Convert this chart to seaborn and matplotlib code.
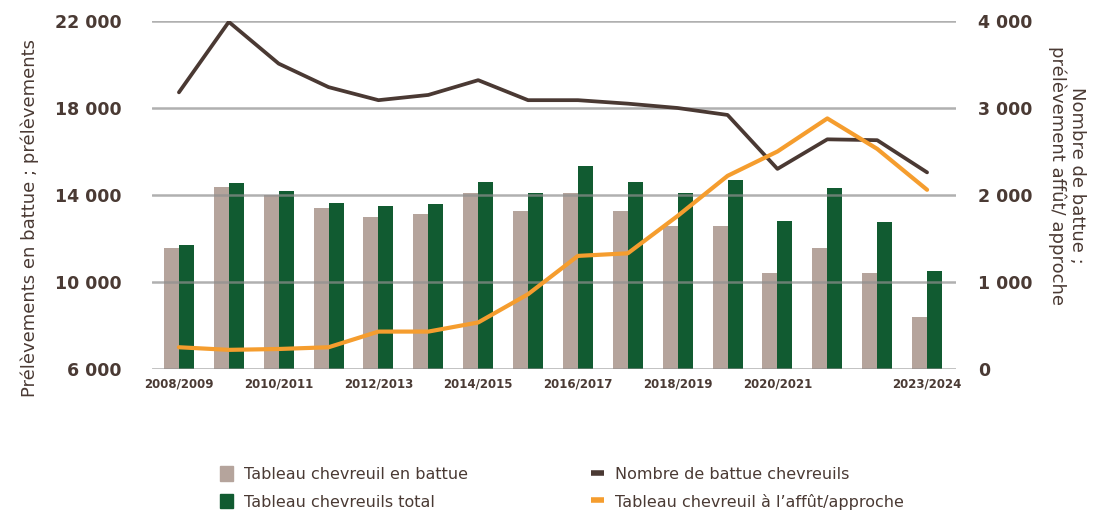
import numpy as np
import pandas as pd
import matplotlib
matplotlib.use('Agg')
import matplotlib.pyplot as plt
import seaborn as sns
from matplotlib.lines import Line2D
from matplotlib.patches import Patch

# Saisons de chasse
saisons = ['2008/2009', '2009/2010', '2010/2011', '2011/2012', '2012/2013', '2013/2014',
           '2014/2015', '2015/2016', '2016/2017', '2017/2018', '2018/2019', '2019/2020',
           '2020/2021', '2021/2022', '2022/2023', '2023/2024']
tick_saisons = ['2008/2009', '2010/2011', '2012/2013', '2014/2015', '2016/2017',
                '2018/2019', '2020/2021', '2023/2024']

# Axe gauche : tableaux
tableau_battue = [11550, 14360, 14000, 13400, 13010, 13140, 14090, 13270,
                  14090, 13270, 12580, 12580, 10430, 11550, 10430, 8370]
tableau_total = [11720, 14530, 14180, 13650, 13480, 13570, 14580, 14090,
                 15330, 14580, 14090, 14670, 12800, 14310, 12750, 10520]

# Axe droit : nombre de battues et affût/approche
nb_battues = [3180, 3990, 3510, 3240, 3090, 3150, 3320, 3090,
              3090, 3050, 3000, 2920, 2300, 2640, 2630, 2260]
tableau_affut = [250, 220, 230, 250, 430, 430, 535, 860,
                 1300, 1330, 1760, 2220, 2500, 2880, 2530, 2060]

left_ticks = [6000, 10000, 14000, 18000, 22000]
right_ticks = [0, 1000, 2000, 3000, 4000]

lab_battue = 'Tableau chevreuil en battue'
lab_total = 'Tableau chevreuils total'
lab_nb = 'Nombre de battue chevreuils'
lab_affut = 'Tableau chevreuil à l’affût/approche'

c_beige = '#b5a49c'
c_green = '#115b31'
c_brown = '#4a3933'
c_orange = '#f59d2e'
c_text = '#4a3a34'

sns.set_style('white')
plt.rcParams['font.family'] = ['DejaVu Sans']


def fmt(v):
    return f'{v:,}'.replace(',', ' ')


df = pd.DataFrame({'saison': saisons * 2,
                   'valeur': tableau_battue + tableau_total,
                   'serie': [lab_battue] * len(saisons) + [lab_total] * len(saisons)})

fig = plt.figure(figsize=(11.01, 5.12), dpi=100)
ax = fig.add_axes([152 / 1101, 1 - 369 / 512, (956 - 152) / 1101, (369 - 21) / 512])

sns.barplot(data=df, x='saison', y='valeur', hue='serie', order=saisons,
            palette=[c_beige, c_green], width=0.6, linewidth=0, saturation=1,
            errorbar=None, ax=ax, legend=False)
for p in ax.patches:
    p.set_zorder(1)

ax.set_xlim(-0.54, 15.58)
ax.set_ylim(6000, 22000)
ax.set_yticks(left_ticks)
ax.set_yticklabels([fmt(v) for v in left_ticks])
ax.set_xticks([saisons.index(s) for s in tick_saisons])
ax.set_xticklabels(tick_saisons)
ax.set_xlabel('')
ax.set_ylabel('')
# grille par-dessus les barres, comme dans l'original
for v in left_ticks:
    ax.axhline(v, color='#8f8f8f', linewidth=1.8, alpha=0.7, zorder=3)
for s in ax.spines.values():
    s.set_visible(False)
ax.tick_params(axis='y', length=0, pad=22, labelsize=12.5, labelcolor=c_text)
ax.tick_params(axis='x', length=0, pad=6, labelsize=8.5, labelcolor=c_text)
for t in ax.get_yticklabels() + ax.get_xticklabels():
    t.set_fontweight('bold')

ax2 = ax.twinx()
x = np.arange(len(saisons))
sns.lineplot(x=x, y=nb_battues, color=c_brown, linewidth=2.7, ax=ax2)
sns.lineplot(x=x, y=tableau_affut, color=c_orange, linewidth=3.0, ax=ax2)
ax2.set_ylim(0, 4000)
ax2.set_yticks(right_ticks)
ax2.set_yticklabels([fmt(v) for v in right_ticks])
ax2.grid(False)
for s in ax2.spines.values():
    s.set_visible(False)
ax2.tick_params(axis='y', length=0, pad=16, labelsize=12.5, labelcolor=c_text)
for t in ax2.get_yticklabels():
    t.set_fontweight('bold')

fig.text(30 / 1101, 1 - 218 / 512, 'Prélèvements en battue ; prélèvements',
         rotation=90, ha='center', va='center', fontsize=13, color=c_text)
fig.text(1067 / 1101, 1 - 175 / 512, 'Nombre de battue ;\nprélèvement affût/ approche',
         rotation=270, ha='center', va='center', fontsize=13, color=c_text,
         multialignment='center', linespacing=1.1)

h1 = [Patch(color=c_beige, label=lab_battue), Patch(color=c_green, label=lab_total)]
h2 = [Line2D([], [], color=c_brown, linewidth=4, solid_capstyle='butt', label=lab_nb),
      Line2D([], [], color=c_orange, linewidth=4, solid_capstyle='butt', label=lab_affut)]
common = dict(frameon=False, fontsize=11.5, handlelength=0.8, handleheight=1.0,
              handletextpad=0.7, labelspacing=0.75, borderaxespad=0, borderpad=0,
              labelcolor=c_text, loc='center left')
fig.legend(handles=h1, bbox_to_anchor=(220 / 1101, 1 - 488 / 512), **common)
fig.legend(handles=h2, bbox_to_anchor=(591 / 1101, 1 - 488 / 512), **common)

fig.savefig('out.png', dpi=100)
